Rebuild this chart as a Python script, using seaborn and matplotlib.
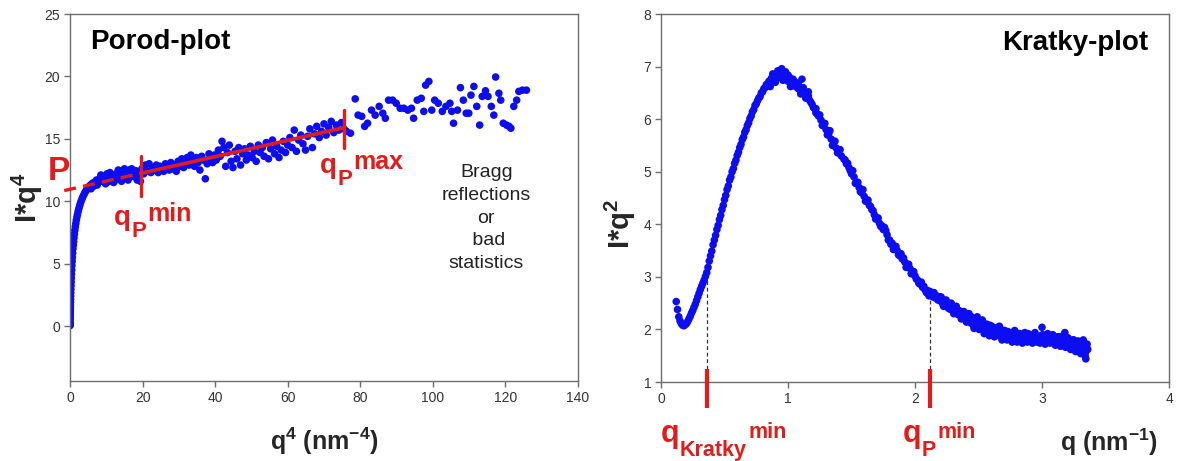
import matplotlib
matplotlib.use("Agg")
import matplotlib.pyplot as plt
import seaborn as sns
import pandas as pd

# ---------------- data ----------------
# Porod plot: x = q^4 (nm^-4), y = I*q^4
porod_x = [0.0002, 0.0016, 0.0039, 0.0081, 0.015, 0.0256, 0.0326, 0.041, 0.0509, 0.0625,
           0.076, 0.0915, 0.1093, 0.1296, 0.1526, 0.1785, 0.2076, 0.2401, 0.2763, 0.3164,
           0.3607, 0.4096, 0.4632, 0.522, 0.5862, 0.6561, 0.7321, 0.8145, 0.9037, 1.0,
           1.104, 1.2155, 1.3355, 1.4641, 1.6018, 1.749, 1.906, 2.0736, 2.252, 2.441,
           2.643, 2.856, 3.082, 3.3215, 3.574, 3.8416, 4.123, 4.42, 4.733, 5.0625,
           5.408, 5.772, 6.153, 6.5536,
           6.9, 7.3, 7.8, 8.2, 8.7, 9.1, 9.5, 10.0, 10.4, 10.9, 11.3, 11.8, 12.2, 12.7,
           13.1, 13.6, 14.0, 14.5, 14.9, 15.4, 15.8, 16.3, 16.7, 17.2, 17.6, 18.1, 18.5,
           19.0, 19.4, 5.8, 6.5, 7.5, 8.5, 9.8, 10.2, 11.0, 12.0, 13.3, 14.2, 15.0, 16.0,
           17.0, 18.3,
           19.8, 20.3, 20.8, 21.3, 21.8, 22.3, 22.8, 23.3, 23.8, 24.3, 24.8, 25.3, 25.8,
           26.3, 26.8, 27.3, 27.8, 28.3, 28.8, 29.3, 29.8, 30.3, 30.8, 31.3, 31.8, 32.3,
           32.8, 33.3, 33.8, 34.3, 34.8, 35.3, 35.8, 36.3, 36.8, 37.3, 37.8, 38.3, 38.8,
           39.3, 39.8, 40.3, 40.9, 41.4, 41.9, 42.4, 42.9, 43.4, 43.9, 44.4, 44.9, 45.5,
           46.0, 46.5, 47.0, 47.6, 48.1, 48.6, 49.1, 49.7, 50.2, 50.8, 51.3, 51.9, 52.4,
           53.0, 53.5, 54.1, 54.7, 55.3, 55.8, 56.4, 57.0, 57.6, 58.2, 58.8, 59.4, 60.0,
           60.6, 61.2, 61.8, 62.4, 63.0, 63.6, 64.2, 64.9, 65.5, 66.1, 66.8, 67.4, 68.0,
           68.7, 69.3, 70.0, 70.6, 71.3, 72.0, 72.7, 73.4, 74.1, 74.8, 75.5,
           76.2, 77.3, 78.6, 79.4, 80.4, 81.2, 82.0, 83.1, 84.1, 85.2, 86.2, 86.9, 87.8,
           88.9, 89.9, 91.0, 92.0, 93.1, 94.1, 94.7, 95.7, 96.8, 97.5, 98.0, 98.9, 99.7,
           100.5, 101.5, 102.6, 103.6, 104.7, 105.2, 105.7, 106.8, 107.6, 108.4, 109.2,
           109.9, 110.5, 111.3, 112.1, 112.9, 113.6, 114.5, 115.2, 116.1, 116.8, 117.3,
           118.2, 118.7, 119.4, 120.3, 121.0, 121.5, 122.3, 123.1, 123.7, 124.7, 125.8]
porod_y = [0.036, 0.084, 0.148, 0.24, 0.37, 0.56, 0.67, 0.81, 0.95, 1.12,
           1.29, 1.48, 1.69, 1.91, 2.14, 2.40, 2.67, 2.95, 3.24, 3.54,
           3.85, 4.17, 4.50, 4.85, 5.18, 5.50, 5.85, 6.20, 6.49, 6.76,
           7.07, 7.37, 7.68, 7.96, 8.22, 8.49, 8.73, 8.96, 9.20, 9.42,
           9.63, 9.83, 10.02, 10.20, 10.38, 10.54, 10.70, 10.85, 10.99, 11.12,
           11.23, 11.33, 11.42, 11.50,
           11.5, 11.7, 11.55, 11.8, 11.6, 12.0, 11.7, 11.9, 11.55, 12.1, 11.8, 11.95, 11.6, 12.2,
           11.9, 12.35, 11.8, 12.1, 12.4, 11.9, 12.2, 12.5, 11.95, 12.3, 12.0, 12.45, 11.7,
           12.3, 11.6, 11.0, 11.2, 11.3, 12.1, 11.4, 12.2, 12.3, 11.5, 12.5, 11.6, 12.6, 11.7,
           12.6, 12.0,
           12.6, 12.2, 12.9, 12.4, 13.0, 12.3, 12.7, 12.5, 12.9, 12.3, 12.8, 12.6, 12.4,
           13.0, 12.7, 12.5, 13.1, 12.6, 12.9, 12.4, 13.2, 12.8, 13.4, 12.7, 13.0, 13.5,
           12.9, 13.7, 13.2, 12.8, 13.5, 13.1, 12.5, 13.6, 13.3, 11.8, 13.0, 13.8, 13.4,
           13.1, 13.7, 13.3, 14.1, 13.6, 14.8, 14.3, 12.8, 13.9, 14.5, 13.2, 12.7, 14.0,
           13.4, 14.3, 12.9, 13.8, 14.2, 13.3, 13.7, 14.4, 13.5, 14.0, 13.2, 14.5, 13.9,
           14.3, 13.6, 14.7, 13.4, 14.2, 14.9, 13.8, 14.4, 13.5, 14.1, 14.8, 13.9, 14.5,
           15.1, 14.3, 15.7, 14.0, 14.9, 15.3, 14.6, 14.1, 15.2, 15.8, 14.3, 15.4, 16.0,
           15.1, 15.6, 16.2, 15.3, 15.9, 16.4, 15.5, 16.1, 15.7, 16.3, 15.8,
           15.6, 15.45, 18.2, 16.9, 16.8, 16.0, 16.25, 17.3, 16.9, 17.6, 17.05, 16.65, 18.1,
           18.1, 17.85, 17.45, 17.45, 17.3, 17.45, 16.65, 18.1, 18.25, 17.2, 19.3, 19.6, 17.3,
           18.1, 17.85, 17.2, 17.6, 17.85, 17.2, 16.25, 17.3, 19.1, 18.1, 17.05,
           17.05, 18.5, 19.2, 17.6, 16.1, 18.4, 18.85, 18.4, 17.6, 16.9, 19.95,
           18.65, 18.1, 16.25, 16.1, 16.0, 15.85, 17.6, 18.1, 18.8, 18.9, 18.9]

# Porod fit line and limits of the fit range
porod_intercept = 10.96   # P
porod_slope = 0.0653
porod_dash_start = -1.6
qp_min4 = 19.5
qp_max4 = 75.6

# Kratky plot: q (nm^-1), I*q^2
kratky_q = [0.12, 0.13, 0.14, 0.15, 0.16, 0.17, 0.18, 0.19, 0.20, 0.21, 0.22, 0.23, 0.24,
            0.25, 0.26, 0.27, 0.28, 0.29, 0.30, 0.31, 0.32, 0.33, 0.34, 0.35, 0.36, 0.37,
            0.38, 0.39, 0.40, 0.41, 0.42, 0.43, 0.44, 0.45, 0.46, 0.47, 0.48, 0.49, 0.50,
            0.51, 0.52, 0.53, 0.54, 0.55, 0.56, 0.57, 0.58, 0.59, 0.60, 0.61, 0.62, 0.63,
            0.64, 0.65, 0.66, 0.67, 0.68, 0.69, 0.70, 0.71, 0.72, 0.73, 0.74, 0.75, 0.76,
            0.77, 0.78, 0.79, 0.80, 0.81, 0.82, 0.83, 0.84, 0.85, 0.86, 0.87, 0.88, 0.89,
            0.90, 0.91, 0.92, 0.93, 0.94, 0.95, 0.96, 0.97, 0.98, 0.99, 1.00, 1.01, 1.02,
            1.03, 1.04, 1.05, 1.06, 1.07, 1.08, 1.09, 1.10, 1.11, 1.12, 1.13, 1.14, 1.15,
            1.16, 1.17, 1.18, 1.19, 1.20, 1.21, 1.22, 1.23, 1.24, 1.26, 1.28, 1.30, 1.32,
            1.34, 1.36, 1.38, 1.40, 1.42, 1.44, 1.46, 1.48, 1.49, 1.50, 1.52, 1.54, 1.56,
            1.58, 1.60, 1.62, 1.64, 1.66, 1.68, 1.70, 1.72, 1.74, 1.75, 1.76, 1.78, 1.80,
            1.81, 1.82, 1.84, 1.86, 1.88, 1.89, 1.90, 1.92, 1.94, 1.96, 1.98, 2.00, 2.01,
            2.02, 2.04, 2.05, 2.06, 2.08, 2.09, 2.10, 2.11, 2.12, 2.13, 2.14, 2.15, 2.16,
            2.17, 2.18, 2.19, 2.20, 2.21, 2.22, 2.23, 2.24, 2.25, 2.26, 2.27, 2.28, 2.29,
            2.30, 2.31, 2.32, 2.33, 2.34, 2.35, 2.36, 2.37, 2.38, 2.39, 2.40, 2.41, 2.42,
            2.43, 2.44, 2.45, 2.46, 2.47, 2.48, 2.49, 2.50, 2.51, 2.52, 2.53, 2.54, 2.55,
            2.56, 2.57, 2.58, 2.59, 2.60, 2.61, 2.62, 2.63, 2.64, 2.65, 2.66, 2.67, 2.68,
            2.69, 2.70, 2.71, 2.72, 2.73, 2.74, 2.75, 2.76, 2.77, 2.78, 2.79, 2.80, 2.81,
            2.82, 2.83, 2.84, 2.85, 2.86, 2.87, 2.88, 2.89, 2.90, 2.91, 2.92, 2.93, 2.94,
            2.95, 2.96, 2.97, 2.98, 2.99, 3.00, 3.01, 3.02, 3.03, 3.04, 3.05, 3.06, 3.07,
            3.08, 3.09, 3.10, 3.11, 3.12, 3.13, 3.14, 3.15, 3.16, 3.17, 3.18, 3.19, 3.20,
            3.21, 3.22, 3.23, 3.24, 3.25, 3.26, 3.27, 3.28, 3.29, 3.30, 3.31, 3.32, 3.33,
            3.34, 3.35, 3.36, 3.345]
kratky_y = [2.53, 2.38, 2.24, 2.16, 2.11, 2.08, 2.07, 2.09, 2.11, 2.15, 2.20, 2.25, 2.31,
            2.36, 2.42, 2.48, 2.55, 2.62, 2.69, 2.76, 2.82, 2.88, 2.94, 3.01, 3.08, 3.18,
            3.30, 3.40, 3.49, 3.61, 3.70, 3.79, 3.90, 3.98, 4.09, 4.17, 4.28, 4.36, 4.47,
            4.55, 4.66, 4.73, 4.84, 4.90, 5.00, 5.06, 5.16, 5.22, 5.31, 5.37, 5.46, 5.52,
            5.61, 5.66, 5.75, 5.80, 5.88, 5.93, 6.01, 6.06, 6.14, 6.18, 6.26, 6.29, 6.35,
            6.40, 6.43, 6.50, 6.52, 6.58, 6.60, 6.66, 6.64, 6.72, 6.70, 6.78, 6.74, 6.83,
            6.77, 6.86, 6.80, 6.90, 6.79, 6.96, 6.82, 6.88, 6.76, 6.84, 6.72, 6.80, 6.70,
            6.75, 6.66, 6.72, 6.62, 6.66, 6.58, 6.62, 6.55, 6.76, 6.52, 6.48, 6.50, 6.42,
            6.44, 6.36, 6.32, 6.28, 6.22, 6.20, 6.12, 6.10, 6.06, 5.98, 5.90, 5.80, 5.72,
            5.62, 5.55, 5.45, 5.40, 5.30, 5.24, 5.15, 5.08, 5.02, 4.96, 4.90, 4.78, 4.70,
            4.60, 4.53, 4.44, 4.36, 4.28, 4.18, 4.10, 4.02, 3.97, 3.90, 3.94, 3.80, 3.70,
            3.62, 3.64, 3.54, 3.50, 3.40, 3.44, 3.34, 3.28, 3.20, 3.16, 3.08, 3.02, 2.96,
            2.94, 2.86, 2.90, 2.80, 2.75, 2.70, 2.74, 2.64, 2.72, 2.68, 2.62, 2.70, 2.60,
            2.64, 2.56, 2.62, 2.54, 2.58, 2.48, 2.53, 2.46, 2.50, 2.42, 2.48, 2.38, 2.45,
            2.36, 2.42, 2.33, 2.38, 2.28, 2.35, 2.26, 2.33, 2.22, 2.30, 2.20, 2.27, 2.16,
            2.22, 2.12, 2.20, 2.08, 2.18, 2.10, 2.24, 2.04, 2.14, 2.06, 2.18, 2.00, 2.10,
            1.98, 2.06, 1.94, 2.08, 1.96, 2.02, 1.90, 2.00, 1.92, 2.04, 1.88, 1.96, 1.86,
            1.98, 1.84, 1.92, 1.88, 1.96, 1.82, 1.90, 1.80, 1.94, 1.84, 1.88, 1.78, 1.92,
            1.82, 1.86, 1.80, 1.90, 1.78, 1.86, 1.82, 1.92, 1.80, 1.84, 1.78, 1.88, 1.82,
            1.86, 1.76, 1.84, 1.80, 1.88, 2.04, 1.82, 1.78, 1.86, 1.80, 1.84, 1.76, 1.88,
            1.80, 1.84, 1.74, 1.82, 1.78, 1.86, 1.76, 1.80, 1.72, 1.82, 1.94, 1.76, 1.70,
            1.78, 1.66, 1.74, 1.70, 1.80, 1.64, 1.72, 1.60, 1.76, 1.66, 1.70, 1.56, 1.74,
            1.50, 1.66, 1.62, 1.44]

# second, interleaved set of Kratky points (scatter of the measured band)
kratky_q2 = [0.86, 0.88, 0.90, 0.92, 0.94, 0.96, 0.98, 1.00, 1.02, 1.04, 1.06, 1.08, 1.10,
             1.12, 1.14, 1.16, 1.22, 1.25, 1.27, 1.29, 1.31, 1.33, 1.35, 1.37, 1.39, 1.41,
             1.45, 1.47, 1.51, 1.53, 1.55, 1.57, 1.59, 1.61, 1.63, 1.65, 1.67, 1.69, 1.71,
             1.73, 1.77, 1.79, 1.83, 1.85, 1.87, 1.91, 1.93, 1.95, 1.97, 1.99, 2.03, 2.07,
             2.205, 2.225, 2.245, 2.265, 2.285, 2.305, 2.325, 2.345, 2.365, 2.385, 2.405,
             2.425, 2.445, 2.465, 2.485, 2.505, 2.525, 2.545, 2.565, 2.585, 2.605, 2.625,
             2.645, 2.665, 2.685, 2.705, 2.725, 2.745, 2.765, 2.785, 2.805, 2.825, 2.845,
             2.865, 2.885, 2.905, 2.925, 2.945, 2.965, 2.985, 3.005, 3.025, 3.045, 3.065,
             3.085, 3.105, 3.125, 3.145, 3.165, 3.185, 3.205, 3.225, 3.245, 3.265, 3.285,
             3.305, 3.325, 3.345, 3.355]
kratky_y2 = [6.62, 6.86, 6.70, 6.92, 6.88, 6.74, 6.90, 6.84, 6.62, 6.76, 6.70, 6.66, 6.48,
             6.60, 6.40, 6.52, 6.20, 6.08, 5.88, 5.92, 5.70, 5.78, 5.50, 5.58, 5.36, 5.42,
             5.22, 5.16, 5.02, 4.78, 4.80, 4.62, 4.66, 4.44, 4.46, 4.34, 4.26, 4.10, 4.12,
             3.96, 3.88, 3.70, 3.52, 3.58, 3.42, 3.36, 3.18, 3.24, 3.06, 3.10, 2.88, 2.82,
             2.62, 2.44, 2.56, 2.40, 2.50, 2.30, 2.44, 2.36, 2.20, 2.34, 2.14,
             2.30, 2.24, 2.02, 2.20, 2.00, 2.12, 1.92, 2.10, 1.88, 2.06, 1.86,
             1.98, 2.06, 1.80, 1.98, 1.80, 1.94, 1.76, 1.98, 1.76, 1.92, 1.74,
             1.94, 1.76, 1.90, 1.74, 1.94, 1.78, 1.74, 1.90, 1.72, 1.92, 1.74,
             1.90, 1.70, 1.86, 1.68, 1.88, 1.66, 1.84, 1.62, 1.80, 1.58, 1.78,
             1.54, 1.80, 1.58, 1.72]

q_kratky_min = 0.36
q_kratky_min_curve = 3.02
q_p_min = 2.12
q_p_min_curve = 2.68

# ---------------- style ----------------
sns.set_style("white")
plt.rcParams['font.family'] = ['Liberation Sans', 'DejaVu Sans']
plt.rcParams['mathtext.fontset'] = 'custom'
plt.rcParams['mathtext.rm'] = 'Liberation Sans'
plt.rcParams['mathtext.bf'] = 'Liberation Sans:bold'
plt.rcParams['mathtext.it'] = 'Liberation Sans:italic'

RED = '#e31b1b'
BLUE = '#0d0df2'
SPINE = '#6e6e6e'

fig = plt.figure(figsize=(11.77, 4.61), dpi=100)
ax1 = fig.add_axes([70 / 1177, 1 - 381 / 461, 508 / 1177, 367 / 461])
ax2 = fig.add_axes([661 / 1177, 1 - 382 / 461, 508 / 1177, 368 / 461])

porod_df = pd.DataFrame({'x': porod_x, 'y': porod_y})
kratky_df = pd.DataFrame({'q': kratky_q + kratky_q2, 'y': kratky_y + kratky_y2})

sns.scatterplot(data=porod_df, x='x', y='y', ax=ax1, color=BLUE, s=30,
                linewidth=0, edgecolor='none', legend=False, zorder=2)
sns.scatterplot(data=kratky_df, x='q', y='y', ax=ax2, color=BLUE, s=30,
                linewidth=0, edgecolor='none', legend=False, zorder=2)

for ax in (ax1, ax2):
    for sp in ax.spines.values():
        sp.set_visible(True)
        sp.set_color(SPINE)
        sp.set_linewidth(1.0)
    ax.tick_params(axis='both', direction='out', length=4, width=1, color=SPINE,
                   labelsize=10, labelcolor='#333333', pad=3,
                   bottom=True, left=True)


def q_label(ax, x, y, sub, sup, transform, fs, fs_sub, fs_sup, sub_dy, sup_dy):
    """q with a subscript and a following superscript (sub first, then sup)."""
    t_q = ax.text(x, y, 'q', transform=transform, fontsize=fs, fontweight='bold',
                  color=RED, ha='left', va='baseline', clip_on=False)
    t_sub = ax.annotate(sub, xy=(1, 0), xycoords=t_q, xytext=(0.3, sub_dy),
                        textcoords='offset points', fontsize=fs_sub, fontweight='bold',
                        color=RED, ha='left', va='baseline', annotation_clip=False)
    ax.annotate(sup, xy=(1, 0), xycoords=t_sub, xytext=(1.0, sup_dy),
                textcoords='offset points', fontsize=fs_sup, fontweight='bold',
                color=RED, ha='left', va='baseline', annotation_clip=False)


# ---------------- Porod ----------------
ax1.set_xlim(0, 140)
ax1.set_ylim(-4.4, 25)
ax1.set_xticks(range(0, 141, 20))
ax1.set_yticks(range(0, 26, 5))

ax1.plot([porod_dash_start, qp_min4],
         [porod_intercept + porod_slope * porod_dash_start, porod_intercept + porod_slope * qp_min4],
         color=RED, lw=2.4, dashes=(3.6, 2.2), zorder=3, clip_on=False)
ax1.plot([qp_min4, qp_max4],
         [porod_intercept + porod_slope * qp_min4, porod_intercept + porod_slope * qp_max4],
         color=RED, lw=2.6, zorder=3)
ax1.plot([qp_min4, qp_min4], [10.4, 13.6], color=RED, lw=2.4, zorder=3)
ax1.plot([qp_max4, qp_max4], [14.3, 17.3], color=RED, lw=2.4, zorder=3)

ax1.text(-3.2, 12.4, 'P', color=RED, fontsize=24, fontweight='bold',
         ha='center', va='center', clip_on=False)
q_label(ax1, 12.1, 8.1, 'P', 'min', ax1.transData, 20, 16, 18, -4.4, 15.0)
q_label(ax1, 68.9, 12.3, 'P', 'max', ax1.transData, 20, 16, 18, -4.4, 15.0)

ax1.text(114.7, 8.65, 'Bragg\nreflections\nor\n bad\nstatistics', fontsize=14,
         ha='center', va='center', multialignment='center', linespacing=1.45,
         color='#222222')
ax1.text(0.04, 0.923, 'Porod-plot', transform=ax1.transAxes, fontsize=20,
         fontweight='bold', ha='left', va='center', color='black')

ax1.set_ylabel(r'I*q$^{\mathbf{4}}$', fontsize=21, fontweight='bold')
ax1.yaxis.set_label_coords(-0.05, 0.5)
ax1.set_xlabel(r'q$^{\mathbf{4}}$ (nm$^{\mathbf{-4}}$)', fontsize=18,
               fontweight='bold', va='center')
ax1.xaxis.set_label_coords(0.5, -0.165)

# ---------------- Kratky ----------------
ax2.set_xlim(0, 4)
ax2.set_ylim(1, 8)
ax2.set_xticks(range(0, 5))
ax2.set_yticks(range(1, 9))

for qv, yc in ((q_kratky_min, q_kratky_min_curve), (q_p_min, q_p_min_curve)):
    ax2.plot([qv, qv], [1.25, yc], color='#333333', lw=0.9, dashes=(3, 2.2), zorder=1)
    ax2.plot([qv, qv], [0.5, 1.25], color=RED, lw=3.0, zorder=3, clip_on=False,
             solid_capstyle='butt')

q_label(ax2, 0.0, -0.162, 'Kratky', 'min', ax2.transAxes, 22, 15.5, 15.5, -5.4, 17.0)
q_label(ax2, 0.476, -0.162, 'P', 'min', ax2.transAxes, 22, 15.5, 15.5, -5.4, 17.0)
ax2.text(0.96, 0.92, 'Kratky-plot', transform=ax2.transAxes, fontsize=20,
         fontweight='bold', ha='right', va='center', color='black')

ax2.set_ylabel(r'I*q$^{\mathbf{2}}$', fontsize=21, fontweight='bold')
ax2.yaxis.set_label_coords(-0.045, 0.43)
ax2.set_xlabel(r'q (nm$^{\mathbf{-1}}$)', fontsize=18, fontweight='bold',
               va='center', ha='center')
ax2.xaxis.set_label_coords(0.882, -0.165)

fig.savefig('out.png', dpi=100)
